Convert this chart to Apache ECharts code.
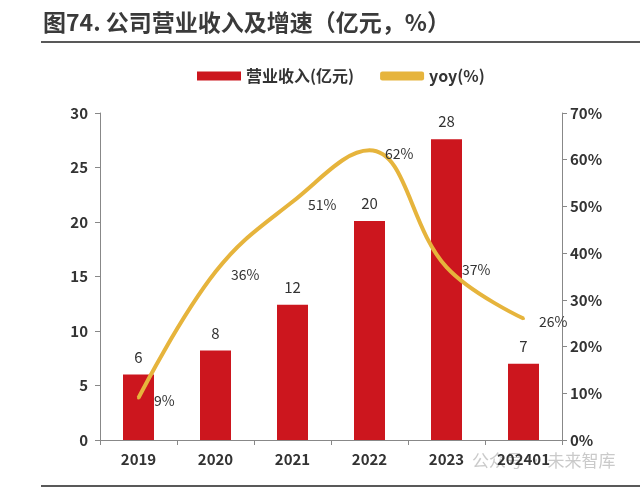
<!DOCTYPE html>
<html><head><meta charset="utf-8">
<script src="https://cdn.jsdelivr.net/npm/echarts@6/dist/echarts.min.js"></script>
<style>html,body{margin:0;padding:0;background:#fff}#c{width:640px;height:489px}</style>
</head><body><div id="c"></div>
<script>
const categories = ['2019','2020','2021','2022','2023','202401'];
const revenue = [6.0, 8.2, 12.4, 20.1, 27.6, 7.0];
const revenueLabels = ['6','8','12','20','28','7'];
const yoy = [9, 36, 51, 62, 37, 26];
const leftTicks = [0,5,10,15,20,25,30];
const rightTicks = [0,10,20,30,40,50,60,70];

const chart = echarts.init(document.getElementById('c'));
const font = '"Noto Sans CJK SC", "Noto Sans", sans-serif';
chart.setOption({
  animation:false,
  textStyle:{fontFamily:font},
  graphic:[
    {type:'text', left:43, top:11, style:{text:'图74. 公司营业收入及增速（亿元，%）', font:'bold 23px '+font, fill:'#3a3a3a'}},
    {type:'line', shape:{x1:41,y1:42,x2:640,y2:42}, style:{stroke:'#222', lineWidth:1.5}},
    {type:'line', shape:{x1:41,y1:486,x2:640,y2:486}, style:{stroke:'#222', lineWidth:1.5}},
    {type:'text', left:472, top:452, z:-1, style:{text:'公众号 · 未来智库', font:'17px '+font, fill:'rgba(150,150,150,0.5)'}}
  ],
  legend:{
    top:63, left:192, itemGap:26, itemWidth:44, itemHeight:9,
    textStyle:{fontSize:16, color:'#333', fontWeight:'bold'},
    data:[{name:'营业收入(亿元)', icon:'rect'},{name:'yoy(%)', icon:'roundRect'}]
  },
  grid:{left:100, right:78, top:113, bottom:49},
  xAxis:{
    type:'category', data:categories,
    axisLine:{lineStyle:{color:'#888'}},
    axisTick:{show:true, length:5, lineStyle:{color:'#888'}},
    axisLabel:{color:'#333', fontSize:15, fontWeight:'bold', margin:12}
  },
  yAxis:[
    {type:'value', min:0, max:30, interval:5, position:'left',
     axisLine:{show:true, lineStyle:{color:'#888'}},
     axisTick:{show:true, length:5, lineStyle:{color:'#888'}},
     splitLine:{show:false},
     axisLabel:{color:'#333', fontSize:15, fontWeight:'bold', margin:12,
       formatter:v=>leftTicks.includes(v)?String(v):''}},
    {type:'value', min:0, max:70, interval:10, position:'right',
     axisLine:{show:true, lineStyle:{color:'#888'}},
     axisTick:{show:true, length:5, lineStyle:{color:'#888'}},
     splitLine:{show:false},
     axisLabel:{color:'#333', fontSize:15, fontWeight:'bold', margin:8,
       formatter:v=>rightTicks.includes(v)?v+'%':''}}
  ],
  series:[
    {name:'营业收入(亿元)', type:'bar', data:revenue, barWidth:31, yAxisIndex:0,
     itemStyle:{color:'#CC161E'},
     label:{show:true, position:'top', distance:10, fontSize:15, color:'#333',
       formatter:p=>revenueLabels[p.dataIndex]}},
    {name:'yoy(%)', type:'line', data:yoy, yAxisIndex:1, smooth:0.4,
     symbol:'circle', symbolSize:3, showSymbol:true,
     lineStyle:{width:4, color:'#E6B43C'}, itemStyle:{color:'#E6B43C'},
     label:{show:true, position:'right', distance:14, fontSize:14, color:'#333',
       offset:[0,3], formatter:p=>p.value+'%'}}
  ]
});
</script></body></html>
